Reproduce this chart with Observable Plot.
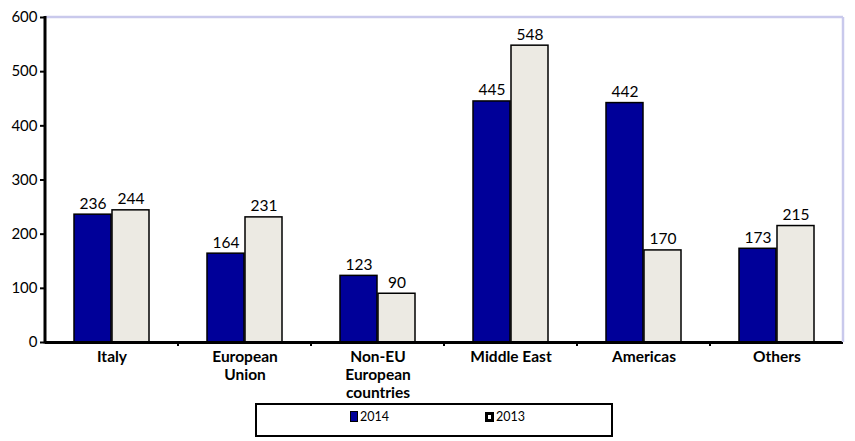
<!DOCTYPE html>
<html><head><meta charset="utf-8">
<script src="https://cdn.jsdelivr.net/npm/d3@7"></script>
<script src="https://cdn.jsdelivr.net/npm/@observablehq/plot@0.6"></script>
<style>
body{margin:0;background:#fff;font-family:Lato,"Open Sans",sans-serif}
#chart svg{display:block}
#legend{position:relative;width:855px;height:41px}
#legend .box{position:absolute;left:255px;top:3px;width:354px;height:30px;border:2px solid #000;}
#legend .item{position:absolute;top:9px;font-size:12.5px;display:flex;align-items:center;color:#000}
#legend .sw{display:inline-block;width:8px;height:11px;margin-right:2px;box-sizing:border-box}
</style></head><body>
<div id="chart"></div>
<div id="legend"></div>
<script>
const categories = ["Italy","European Union","Non-EU European countries","Middle East","Americas","Others"];
const categoryLabels = ["Italy","European\nUnion","Non-EU\nEuropean\ncountries","Middle East","Americas","Others"];
const years = ["2014","2013"];
const values2014 = [236,164,123,445,442,173];
const values2013 = [244,231,90,548,170,215];
const yTicks = [0,100,200,300,400,500,600];
const yearColors = ["#000099","#ECEAE3"];

const data = categories.flatMap((c,i)=>[
  {category:c, year:"2014", value:values2014[i]},
  {category:c, year:"2013", value:values2013[i]}
]);
const labelOf = new Map(categories.map((c,i)=>[c, categoryLabels[i]]));

const plot = Plot.plot({
  width: 855, height: 400,
  marginLeft: 45, marginRight: 12, marginTop: 17, marginBottom: 58,
  style: {fontFamily: "Lato, 'Open Sans', sans-serif", fontSize: "14px", color: "#000", background: "transparent", overflow: "visible"},
  fx: {domain: categories, paddingInner: 0, paddingOuter: 0, label: null, axis: null},
  x: {domain: years, paddingInner: 0.03, paddingOuter: 0.765, axis: null},
  y: {domain: [0, 600], label: null, axis: null},
  color: {domain: years, range: yearColors},
  marks: [
    Plot.barY(data, {fx: "category", x: "year", y: "value", fill: "year", stroke: "#000", strokeWidth: 1.5}),
    Plot.text(data, {fx: "category", x: "year", y: "value", text: d => String(d.value), dy: -11, fontSize: 15.5, fill: "#000"}),
    Plot.ruleY([0], {stroke: "#000", strokeWidth: 3}),
    Plot.axisFx({anchor: "bottom", domain: categories, tickSize: 0, tickPadding: 7, label: null, fontWeight: "bold", fontSize: 15.5, lineHeight: 1.15, tickFormat: d => labelOf.get(d)}),
    Plot.axisY({anchor: "left", ticks: yTicks, tickSize: 5, tickPadding: 3, strokeWidth: 2, label: null, fontSize: 15, tickFormat: d => String(d)})
  ]
});
document.getElementById("chart").append(plot);

// frame lines and category boundary ticks, positioned from the plot's own scales
const fx = plot.scale("fx"), y = plot.scale("y");
const svg = d3.select(plot.tagName === "svg" ? plot : plot.querySelector("svg"));
const x0 = fx.range[0], x1 = fx.range[1];
const yTop = y.apply(600), yBot = y.apply(0);
const g = svg.append("g");
g.append("line").attr("x1", x0).attr("x2", x1).attr("y1", yTop).attr("y2", yTop).attr("stroke", "#C9C9EC").attr("stroke-width", 2.5);
g.append("line").attr("x1", x1).attr("x2", x1).attr("y1", yTop).attr("y2", yBot).attr("stroke", "#C9C9EC").attr("stroke-width", 2.5);
g.append("line").attr("x1", x0).attr("x2", x0).attr("y1", yTop - 1).attr("y2", yBot + 1.5).attr("stroke", "#000").attr("stroke-width", 3);
categories.slice(1).forEach(c => {
  const bx = fx.apply(c);
  g.append("line").attr("x1", bx).attr("x2", bx).attr("y1", yBot).attr("y2", yBot + 4).attr("stroke", "#000").attr("stroke-width", 2);
});

// legend
const leg = document.getElementById("legend");
leg.innerHTML = `<div class="box"></div>
<div class="item" style="left:350px"><span class="sw" style="background:${yearColors[0]};border:1px solid #000"></span>${years[0]}</div>
<div class="item" style="left:485px"><span class="sw" style="background:#fff;border:3px solid #000;width:9px;height:10px"></span>${years[1]}</div>`;
</script>
</body></html>
